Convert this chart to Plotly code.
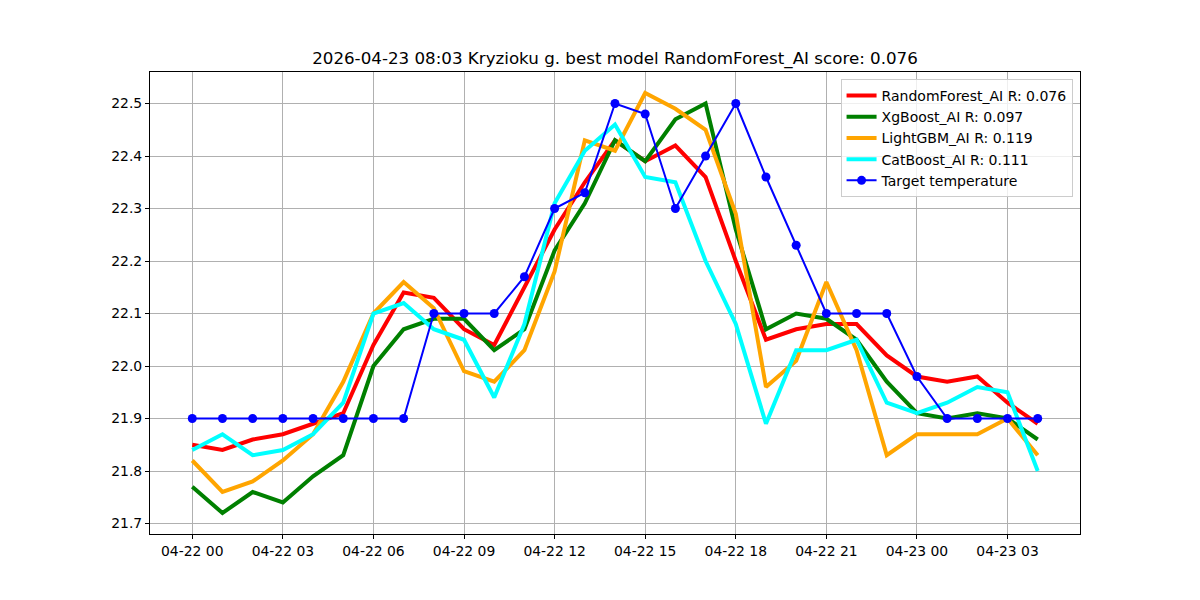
import plotly.graph_objects as go
import pandas as pd

times = pd.date_range("2026-04-22 00:00", periods=29, freq="h")

target = [21.9, 21.9, 21.9, 21.9, 21.9, 21.9, 21.9, 21.9, 22.1, 22.1,
          22.1, 22.17, 22.3, 22.33, 22.5, 22.48, 22.3, 22.4, 22.5, 22.36,
          22.23, 22.1, 22.1, 22.1, 21.98, 21.9, 21.9, 21.9, 21.9]
random_forest = [21.85, 21.84, 21.86, 21.87, 21.89, 21.91, 22.04, 22.14, 22.13, 22.07,
                 22.04, 22.15, 22.26, 22.35, 22.43, 22.39, 22.42, 22.36, 22.2, 22.05,
                 22.07, 22.08, 22.08, 22.02, 21.98, 21.97, 21.98, 21.93, 21.89]
xgboost = [21.77, 21.72, 21.76, 21.74, 21.79, 21.83, 22.0, 22.07, 22.09, 22.09,
           22.03, 22.07, 22.22, 22.31, 22.43, 22.39, 22.47, 22.5, 22.26, 22.07,
           22.1, 22.09, 22.05, 21.97, 21.91, 21.9, 21.91, 21.9, 21.86]
lightgbm = [21.82, 21.76, 21.78, 21.82, 21.87, 21.97, 22.1, 22.16, 22.11, 21.99,
            21.97, 22.03, 22.18, 22.43, 22.41, 22.52, 22.49, 22.45, 22.29, 21.96,
            22.01, 22.16, 22.03, 21.83, 21.87, 21.87, 21.87, 21.9, 21.83]
catboost = [21.84, 21.87, 21.83, 21.84, 21.87, 21.93, 22.1, 22.12, 22.07, 22.05,
            21.94, 22.08, 22.31, 22.41, 22.46, 22.36, 22.35, 22.2, 22.08, 21.89,
            22.03, 22.03, 22.05, 21.93, 21.91, 21.93, 21.96, 21.95, 21.8]

models = [
    ("RandomForest_AI R: 0.076", random_forest, "red"),
    ("XgBoost_AI R: 0.097", xgboost, "green"),
    ("LightGBM_AI R: 0.119", lightgbm, "orange"),
    ("CatBoost_AI R: 0.111", catboost, "cyan"),
]

fig = go.Figure()
for name, vals, color in models:
    fig.add_trace(go.Scatter(x=times, y=vals, mode="lines", name=name,
                             line=dict(color=color, width=4)))
fig.add_trace(go.Scatter(x=times, y=target, mode="lines+markers", name="Target temperature",
                         line=dict(color="blue", width=2),
                         marker=dict(color="blue", size=9)))

x0 = times[0] - pd.Timedelta(hours=1.4)
x1 = times[-1] + pd.Timedelta(hours=1.4)

axis_common = dict(showgrid=True, gridcolor="#b0b0b0", gridwidth=1,
                   showline=True, linecolor="black", linewidth=1, mirror=True,
                   ticks="outside", ticklen=4, tickcolor="black",
                   tickfont=dict(size=13.9, color="black"), zeroline=False)

fig.update_layout(
    width=1200, height=600,
    paper_bgcolor="white", plot_bgcolor="white",
    font=dict(family="DejaVu Sans", color="black"),
    margin=dict(l=150, r=120, t=72, b=66),
    title=dict(text="2026-04-23 08:03 Kryzioku g. best model RandomForest_AI score: 0.076",
               xref="paper", x=0.5, xanchor="center", y=1 - 58 / 600, yanchor="middle",
               font=dict(size=16.7, color="black")),
    xaxis=dict(range=[x0, x1], tickformat="%m-%d %H", dtick=3 * 3600000,
               tick0="2026-04-22 00:00", **axis_common),
    yaxis=dict(range=[21.68, 22.56], dtick=0.1, tickformat=".1f", **axis_common),
    legend=dict(x=0.992, y=0.985, xanchor="right", yanchor="top",
                bgcolor="rgba(255,255,255,0.8)", bordercolor="#cccccc", borderwidth=1,
                font=dict(size=14, color="black"), itemwidth=30),
    showlegend=True,
)

fig.write_html("out.html")
